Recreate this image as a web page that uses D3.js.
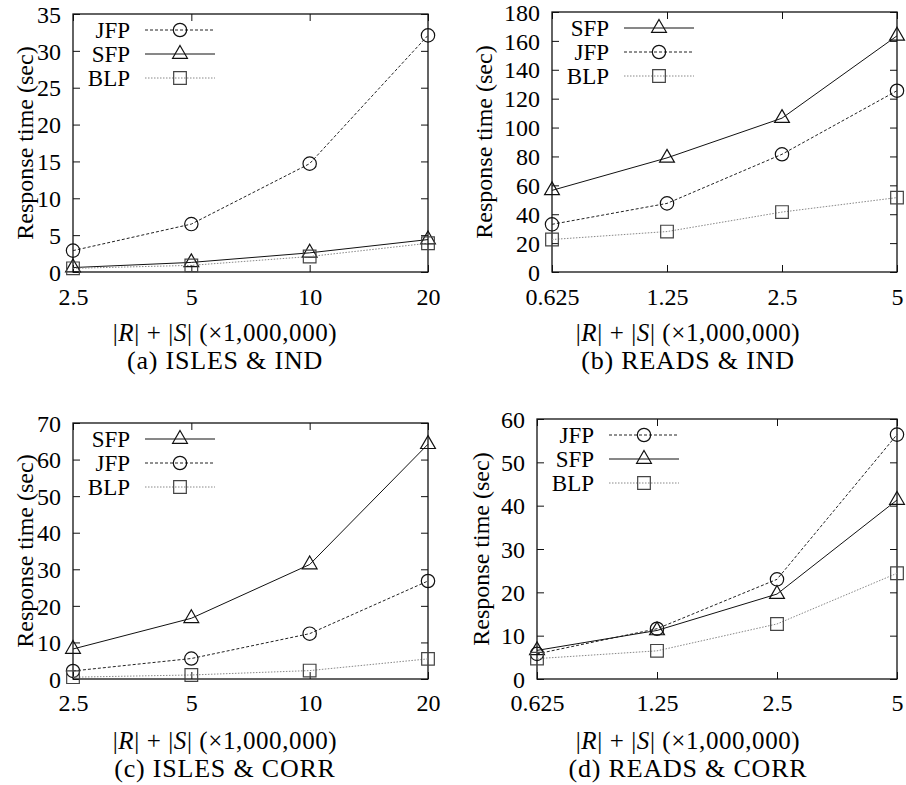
<!DOCTYPE html>
<html>
<head>
<meta charset="utf-8">
<script src="https://cdn.jsdelivr.net/npm/d3@7"></script>
<style>
  html, body { margin: 0; padding: 0; background: #fff; }
  svg { display: block; }
</style>
</head>
<body>
<svg id="chart" width="906" height="785"></svg>
<script>
// ---------- data ----------
const sizesISLES = ["2.5", "5", "10", "20"];
const sizesREADS = ["0.625", "1.25", "2.5", "5"];

const yTicksA = [0, 5, 10, 15, 20, 25, 30, 35];
const yTicksB = [0, 20, 40, 60, 80, 100, 120, 140, 160, 180];
const yTicksC = [0, 10, 20, 30, 40, 50, 60, 70];
const yTicksD = [0, 10, 20, 30, 40, 50, 60];

// (a) ISLES & IND
const a_JFP = [2.9, 6.5, 14.7, 32.1];
const a_SFP = [0.6, 1.3, 2.6, 4.4];
const a_BLP = [0.5, 0.9, 2.1, 3.9];
// (b) READS & IND
const b_SFP = [56.5, 79, 106.5, 163.5];
const b_JFP = [33, 47.5, 81.5, 125.5];
const b_BLP = [22.5, 28, 41.5, 51.5];
// (c) ISLES & CORR
const c_SFP = [8.2, 16.6, 31.3, 64.2];
const c_JFP = [2.2, 5.6, 12.4, 26.8];
const c_BLP = [0.5, 1.1, 2.3, 5.5];
// (d) READS & CORR
const d_JFP = [5.8, 11.6, 23.0, 56.4];
const d_SFP = [6.6, 11.2, 19.6, 41.3];
const d_BLP = [4.7, 6.5, 12.7, 24.4];

const captions = ["(a) ISLES & IND", "(b) READS & IND", "(c) ISLES & CORR", "(d) READS & CORR"];
const yLabel = "Response time (sec)";

// ---------- styles ----------
const FONT = "Liberation Serif";
const styles = {
  JFP: { dash: "3,2", color: "#222", symbol: "circle" },
  SFP: { dash: null, color: "#111", symbol: "triangle" },
  BLP: { dash: "1.5,1.5", color: "#888", symbol: "square" }
};

const panels = [
  { cats: sizesISLES, ticks: yTicksA, max: 35, caption: captions[0],
    series: [["JFP", a_JFP], ["SFP", a_SFP], ["BLP", a_BLP]],
    box: { l: 73, r: 428, t: 14, b: 272 }, ylabX: 25, titleX: 225, tickY: 297, titleY: 332, capY: 360 },
  { cats: sizesREADS, ticks: yTicksB, max: 180, caption: captions[1],
    series: [["SFP", b_SFP], ["JFP", b_JFP], ["BLP", b_BLP]],
    box: { l: 552, r: 897, t: 12, b: 272 }, ylabX: 484, titleX: 688, tickY: 297, titleY: 332, capY: 360 },
  { cats: sizesISLES, ticks: yTicksC, max: 70, caption: captions[2],
    series: [["SFP", c_SFP], ["JFP", c_JFP], ["BLP", c_BLP]],
    box: { l: 73, r: 428, t: 423, b: 679 }, ylabX: 25, titleX: 225, tickY: 703, titleY: 740, capY: 768 },
  { cats: sizesREADS, ticks: yTicksD, max: 60, caption: captions[3],
    series: [["JFP", d_JFP], ["SFP", d_SFP], ["BLP", d_BLP]],
    box: { l: 537, r: 897, t: 419, b: 679 }, ylabX: 481, titleX: 688, tickY: 703, titleY: 740, capY: 768 }
];

const svg = d3.select("#chart");

function drawMarker(g, type, x, y) {
  let sym;
  if (type === "circle") sym = d3.symbol(d3.symbolCircle, 140);
  else if (type === "triangle") sym = d3.symbol(d3.symbolTriangle, 95);
  else sym = d3.symbol(d3.symbolSquare, 160);
  g.append("path")
    .attr("d", sym())
    .attr("transform", `translate(${x},${y})`)
    .attr("fill", "none")
    .attr("stroke", type === "square" ? "#444" : "#111")
    .attr("stroke-width", 1.2);
}

panels.forEach(p => {
  const g = svg.append("g");
  const { l, r, t, b } = p.box;
  const x = d3.scalePoint().domain(p.cats).range([l, r]).padding(0);
  const y = d3.scaleLinear().domain([0, p.max]).range([b, t]);

  const tl = 7;
  const axL = g.append("g").attr("transform", `translate(${l},0)`)
    .call(d3.axisLeft(y).tickValues(p.ticks).tickSize(-tl).tickPadding(12).tickFormat(d3.format("d")));
  const axR = g.append("g").attr("transform", `translate(${r},0)`)
    .call(d3.axisRight(y).tickValues(p.ticks).tickSize(-tl).tickFormat(""));
  const axB = g.append("g").attr("transform", `translate(0,${b})`)
    .call(d3.axisBottom(x).tickSize(-tl).tickPadding(0));
  const axT = g.append("g").attr("transform", `translate(0,${t})`)
    .call(d3.axisTop(x).tickSize(-tl).tickFormat(""));
  [axL, axR, axB, axT].forEach(a => {
    a.attr("font-family", FONT);
    a.select(".domain").remove();
    a.selectAll("line").attr("stroke", "#111").attr("stroke-width", 1);
  });
  axL.selectAll("text").attr("font-family", FONT).attr("font-size", 24).attr("fill", "#000").attr("dy", "0.34em");
  axB.selectAll("text").attr("font-family", FONT).attr("font-size", 24).attr("fill", "#000")
    .attr("y", p.tickY - b).attr("dy", "0.35em");

  g.append("rect").attr("x", l).attr("y", t).attr("width", r - l).attr("height", b - t)
    .attr("fill", "none").attr("stroke", "#111").attr("stroke-width", 1.3);

  p.series.forEach(([name, vals]) => {
    const st = styles[name];
    const line = d3.line().x((d, i) => x(p.cats[i])).y(d => y(d));
    g.append("path").datum(vals).attr("d", line)
      .attr("fill", "none").attr("stroke", st.color).attr("stroke-width", 1)
      .attr("stroke-dasharray", st.dash);
    vals.forEach((v, i) => drawMarker(g, st.symbol, x(p.cats[i]), y(v)));
  });

  p.series.forEach(([name], i) => {
    const st = styles[name];
    const ly = t + 16 + i * 24;
    g.append("text").attr("x", l + 57).attr("y", ly).attr("dy", "0.35em")
      .attr("font-family", FONT)
      .attr("text-anchor", "end").attr("font-size", 23).text(name);
    g.append("line").attr("x1", l + 72).attr("x2", l + 142).attr("y1", ly).attr("y2", ly)
      .attr("stroke", st.color).attr("stroke-width", 1).attr("stroke-dasharray", st.dash);
    drawMarker(g, st.symbol, l + 107, ly);
  });

  g.append("text")
    .attr("transform", `translate(${p.ylabX},${(t + b) / 2}) rotate(-90)`)
    .attr("font-family", FONT)
    .attr("text-anchor", "middle").attr("dy", "0.35em")
    .attr("font-size", 24).text(yLabel);

  const xt = g.append("text").attr("x", p.titleX).attr("y", p.titleY).attr("dy", "0.35em")
    .attr("font-family", FONT)
    .attr("text-anchor", "middle").attr("font-size", 25).attr("letter-spacing", 0.6);
  xt.append("tspan").text("|");
  xt.append("tspan").attr("font-style", "italic").text("R");
  xt.append("tspan").text("| + |");
  xt.append("tspan").attr("font-style", "italic").text("S");
  xt.append("tspan").text("| (×1,000,000)");

  g.append("text").attr("x", p.titleX).attr("y", p.capY).attr("dy", "0.35em")
    .attr("font-family", FONT)
    .attr("text-anchor", "middle").attr("font-size", 26).attr("letter-spacing", 0.8).text(p.caption);
});
</script>
</body>
</html>
